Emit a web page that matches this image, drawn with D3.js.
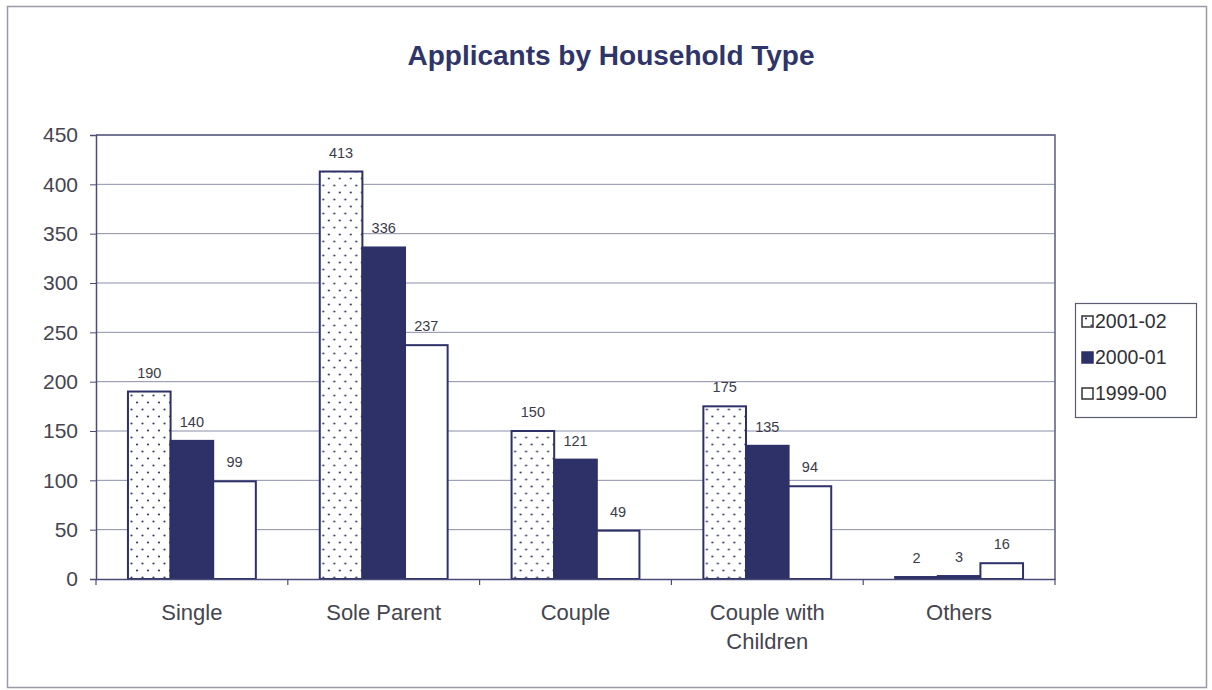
<!DOCTYPE html>
<html><head><meta charset="utf-8">
<script src="https://cdn.jsdelivr.net/npm/d3@7/dist/d3.min.js"></script>
<style>body{margin:0;background:#fff;}svg{display:block;}</style>
</head><body>
<script>
const categories = ["Single", "Sole Parent", "Couple", "Couple with Children", "Others"];
const seriesNames = ["2001-02", "2000-01", "1999-00"];
const v2001 = [190, 413, 150, 175, 2];
const v2000 = [140, 336, 121, 135, 3];
const v1999 = [99, 237, 49, 94, 16];
const yTicks = [0, 50, 100, 150, 200, 250, 300, 350, 400, 450];
const seriesValues = [v2001, v2000, v1999];

(function () {
const W = 1212, H = 690;
const navy = "#2d3168";
const font = "Liberation Sans, Arial, sans-serif";
const svg = d3.select("body").append("svg").attr("width", W).attr("height", H);

const defs = svg.append("defs");
const pat = defs.append("pattern").attr("id", "dots").attr("patternUnits", "userSpaceOnUse")
  .attr("width", 11).attr("height", 14);
pat.append("rect").attr("width", 11).attr("height", 14).attr("fill", "#fff");
pat.append("circle").attr("cx", 2.5).attr("cy", 3.5).attr("r", 1.1).attr("fill", "#3a3d66");
pat.append("circle").attr("cx", 8).attr("cy", 10.5).attr("r", 1.1).attr("fill", "#3a3d66");

// outer border
svg.append("rect").attr("x", 7.5).attr("y", 6.5).attr("width", 1199).attr("height", 681)
  .attr("fill", "#fff").attr("stroke", "#9a9aa6").attr("stroke-width", 1.5);

const pl = 96, pr = 1055, pt = 135, pb = 579;
const x = d3.scaleBand().domain(categories).range([pl, pr]).paddingInner(0).paddingOuter(0);
const y = d3.scaleLinear().domain([0, 450]).range([pb, pt]);
const inner = d3.scaleBand().domain(seriesNames).range([0, x.bandwidth()]).paddingInner(0).paddingOuter(0.75);

// gridlines
svg.append("g").selectAll("line").data(yTicks.filter(d => d > 0)).join("line")
  .attr("x1", pl).attr("x2", pr).attr("y1", d => y(d)).attr("y2", d => y(d))
  .attr("stroke", "#8c8ea8").attr("stroke-width", 1);

// plot frame (top and right)
svg.append("path").attr("d", `M${pl},${pt}H${pr}V${pb}`).attr("fill", "none")
  .attr("stroke", "#5a5c80").attr("stroke-width", 1.5);

// title
svg.append("text").attr("x", 611).attr("y", 65).attr("text-anchor", "middle")
  .attr("font-family", font).attr("font-weight", "bold")
  .attr("font-size", 28).attr("fill", "#2f3469").text("Applicants by Household Type");

// bars
const fills = ["url(#dots)", navy, "#fff"];
categories.forEach((c, i) => {
  const g = svg.append("g").attr("transform", `translate(${x(c)},0)`);
  seriesNames.forEach((s, j) => {
    const v = seriesValues[j][i];
    g.append("rect").attr("x", inner(s)).attr("width", inner.bandwidth())
      .attr("y", y(v)).attr("height", y(0) - y(v))
      .attr("fill", fills[j]).attr("stroke", navy).attr("stroke-width", 2);
    g.append("text").attr("x", inner(s) + inner.bandwidth() / 2).attr("y", y(v) - 14)
      .attr("text-anchor", "middle").attr("font-family", font)
      .attr("font-size", 14.5).attr("fill", "#3a3a4a").text(v);
  });
});

// y axis
const yAxis = svg.append("g").attr("transform", `translate(${pl},0)`)
  .call(d3.axisLeft(y).tickValues(yTicks).tickSize(6).tickPadding(12));
yAxis.select(".domain").attr("stroke", "#4a4c78").attr("stroke-width", 1.5);
yAxis.selectAll(".tick line").attr("stroke", "#4a4c78");
yAxis.selectAll("text").attr("font-family", font)
  .attr("font-size", 21).attr("fill", "#45454f");

// x axis
const xAxis = svg.append("g").attr("transform", `translate(0,${pb})`)
  .call(d3.axisBottom(x).tickSize(0).tickFormat(""));
xAxis.select(".domain").attr("stroke", "#4a4c78").attr("stroke-width", 1.5);
svg.append("g").selectAll("line").data(d3.range(categories.length + 1)).join("line")
  .attr("x1", d => pl + d * x.step()).attr("x2", d => pl + d * x.step())
  .attr("y1", pb).attr("y2", pb + 6).attr("stroke", "#4a4c78").attr("stroke-width", 1.2);

const labelLines = { "Couple with Children": ["Couple with", "Children"] };
categories.forEach(c => {
  const lines = labelLines[c] || [c];
  const t = svg.append("text").attr("x", x(c) + x.bandwidth() / 2).attr("y", 620)
    .attr("text-anchor", "middle").attr("font-family", font)
    .attr("font-size", 22).attr("fill", "#45454f");
  lines.forEach((l, k) => t.append("tspan").attr("x", x(c) + x.bandwidth() / 2).attr("dy", k ? 29 : 0).text(l));
});

// legend
const lg = svg.append("g");
lg.append("rect").attr("x", 1075.5).attr("y", 303.5).attr("width", 121).attr("height", 114)
  .attr("fill", "#fff").attr("stroke", "#5a5c70").attr("stroke-width", 1.2);
seriesNames.forEach((s, j) => {
  const base = 328 + j * 36;
  lg.append("rect").attr("x", 1082).attr("y", base - 12).attr("width", 11).attr("height", 11)
    .attr("fill", fills[j]).attr("stroke", j === 1 ? navy : "#333").attr("stroke-width", 1.5);
  lg.append("text").attr("x", 1095).attr("y", base).attr("font-family", font)
    .attr("font-size", 19.5).attr("fill", "#303038").text(s);
});
})();
</script>
</body></html>
